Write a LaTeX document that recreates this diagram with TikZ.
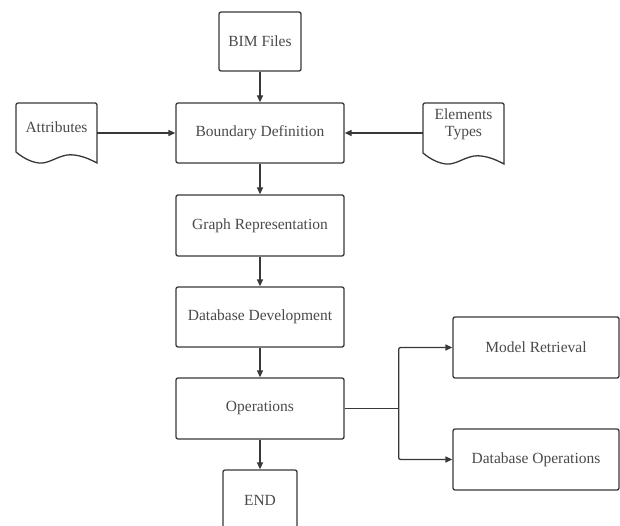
\documentclass[tikz,border=0pt]{standalone}
\usepackage{fontspec}
\setmainfont{Liberation Serif}
\usetikzlibrary{arrows.meta}
\definecolor{lineC}{HTML}{383838}
\definecolor{txtC}{HTML}{4A4A4A}
\begin{document}
\begin{tikzpicture}[x=1pt,y=-1pt,
  box/.style={draw=lineC, line width=1.3pt, rounded corners=2pt, fill=white, text=txtC,
    font=\fontsize{15.5}{18}\selectfont, inner sep=0pt},
  ghost/.style={inner sep=0pt},
  lbl/.style={text=txtC, font=\fontsize{15.5}{18}\selectfont, align=center, inner sep=0pt},
  docshape/.style={draw=lineC, line width=1.3pt, fill=white},
  conn/.style={draw=lineC, line width=1.3pt},
  arr/.style={draw=lineC, line width=1.3pt, -{Triangle[length=7pt,width=6pt]}}]
\clip (0,0) rectangle (620,526);
\fill[white] (0,0) rectangle (620,526);

% main column
\node[box, minimum width=82pt, minimum height=59pt] (bim) at (260,41.5) {BIM Files};
\node[box, minimum width=168pt, minimum height=60pt] (bd) at (260,133) {Boundary Definition};
\node[box, minimum width=168pt, minimum height=61pt] (gr) at (260,225.5) {Graph Representation};
\node[box, minimum width=168pt, minimum height=60pt] (dd) at (260,317) {Database Development};
\node[box, minimum width=168pt, minimum height=61pt] (op) at (260,408.5) {Operations};
\node[box, minimum width=74pt, minimum height=60pt] (end) at (260,500) {END};
\node[box, minimum width=166pt, minimum height=61pt] (mr) at (536,347.5) {Model Retrieval};
\node[box, minimum width=166pt, minimum height=61pt] (dbo) at (536,459.5) {Database Operations};

% document shapes
\begin{scope}[shift={(16,0)}]
\draw[docshape] (0,152) [rounded corners=2pt]-- (0,103) -- (81,103) [sharp corners]-- (81,163)
  .. controls (70,157) and (60,154) .. (51,155)
  .. controls (40,157) and (32,164) .. (23,163)
  .. controls (14,162) and (6,157) .. (0,152) -- cycle;
\end{scope}
\node[ghost, minimum width=81pt, minimum height=60pt] (attr) at (56.5,133) {};
\node[lbl] (attrT) at (56.5,127) {Attributes};

\begin{scope}[shift={(423,0)}]
\draw[docshape] (0,153) [rounded corners=2pt]-- (0,103) -- (81,103) [sharp corners]-- (81,164)
  .. controls (70,158) and (60,155) .. (51,156)
  .. controls (40,158) and (32,165) .. (23,164)
  .. controls (14,163) and (6,158) .. (0,153) -- cycle;
\end{scope}
\node[ghost, minimum width=81pt, minimum height=60pt] (elt) at (463.5,133) {};
\node[lbl] (eltT) at (463.5,124) {Elements\\[-1pt]Types};

% connectors
\draw[arr] (bim) -- (bd);
\draw[arr] (attr.east) -- (bd.west);
\draw[arr] (elt.west) -- (bd.east);
\draw[arr] (bd) -- (gr);
\draw[arr] (gr) -- (dd);
\draw[arr] (dd) -- (op);
\draw[arr] (op) -- (end);
\draw[conn] (op.east) -- ++(54,0) coordinate (br);
\draw[arr, rounded corners=2pt] (br) |- (mr.west);
\draw[arr, rounded corners=2pt] (br) |- (dbo.west);
\end{tikzpicture}
\end{document}
